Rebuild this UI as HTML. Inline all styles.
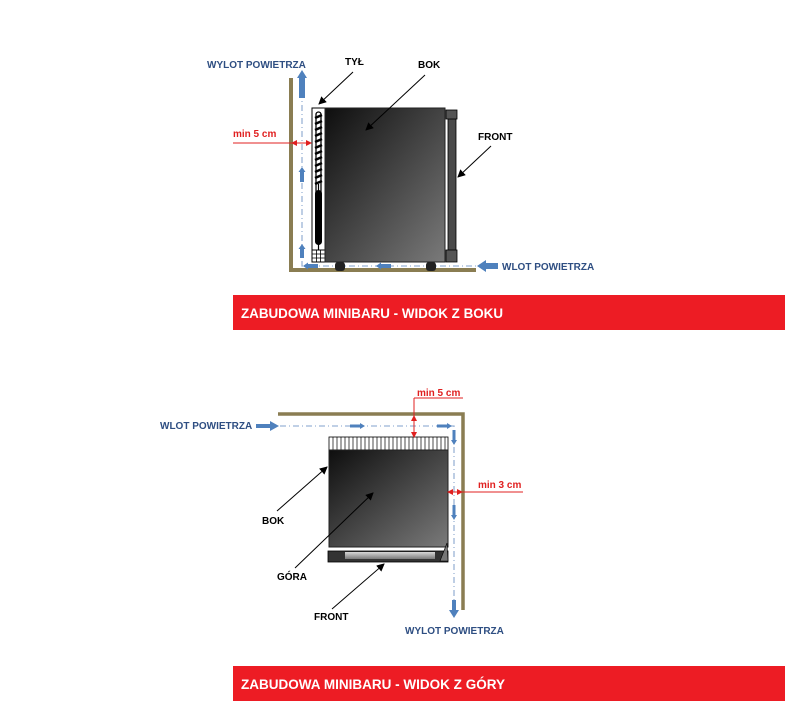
<!DOCTYPE html>
<html><head><meta charset="utf-8"><style>
html,body{margin:0;padding:0;background:#fff;}
svg{display:block;font-family:"Liberation Sans",sans-serif;font-weight:bold;}
</style></head><body>
<svg width="785" height="717" viewBox="0 0 785 717" xmlns="http://www.w3.org/2000/svg">
<defs>
<linearGradient id="g1" x1="0" y1="0" x2="1" y2="1">
<stop offset="0" stop-color="#0e0e0e"/><stop offset="1" stop-color="#7a7a7a"/></linearGradient>
<linearGradient id="g2" x1="0" y1="0" x2="0" y2="1">
<stop offset="0" stop-color="#d8d8d8"/><stop offset="1" stop-color="#7a7a7a"/></linearGradient>
<marker id="ak" markerWidth="8" markerHeight="8" refX="7" refY="4" orient="auto" markerUnits="userSpaceOnUse"><path d="M0,0 L8,4 L0,8 Z" fill="#000"/></marker>
<marker id="ar" markerWidth="6" markerHeight="6" refX="5" refY="3" orient="auto" markerUnits="userSpaceOnUse"><path d="M0,0 L6,3 L0,6 Z" fill="#e02020"/></marker>
</defs>

<!-- ===== SIDE VIEW ===== -->
<path d="M291,78 V270 H476" fill="none" stroke="#8a7d52" stroke-width="4"/>
<path d="M302,92 V266 H476" fill="none" stroke="#9bb3d6" stroke-width="1.3" stroke-dasharray="6,3,1,3"/>
<path d="M299,98 V78 h-2 l5,-8 l5,8 h-2 V98 Z" fill="#4f81bd"/>
<path d="M300,182 V172 h-1.5 l3.5,-5 l3.5,5 h-1.5 V182 Z" fill="#4f81bd"/>
<path d="M300,258 V249 h-1.5 l3.5,-5 l3.5,5 h-1.5 V258 Z" fill="#4f81bd"/>
<path d="M318,264 H308 v-1.5 l-5,3.5 l5,3.5 v-1.5 H318 Z" fill="#4f81bd"/>
<path d="M391,264 H381 v-1.5 l-5,3.5 l5,3.5 v-1.5 H391 Z" fill="#4f81bd"/>
<path d="M498,263 H486 v-3 l-9,6 l9,6 v-3 H498 Z" fill="#4f81bd"/>
<rect x="312" y="108" width="13" height="154" fill="#fff" stroke="#000" stroke-width="1"/>
<rect x="316" y="112" width="5" height="104" rx="2.5" fill="#fff" stroke="#000" stroke-width="1.3"/>
<path d="M315,118 l7,-3 M315,124 l7,-3 M315,130 l7,-3 M315,136 l7,-3 M315,142 l7,-3 M315,148 l7,-3 M315,154 l7,-3 M315,160 l7,-3 M315,166 l7,-3 M315,172 l7,-3 M315,178 l7,-3 M315,184 l7,-3" stroke="#000" stroke-width="2.5"/>
<line x1="318.5" y1="184" x2="318.5" y2="252" stroke="#000" stroke-width="1.2"/>
<rect x="315" y="190" width="7" height="55" rx="3.5" fill="#000"/>
<rect x="312" y="250" width="13" height="12" fill="#fff" stroke="#000"/>
<path d="M312,254 h13 M312,258 h13 M316.5,250 v12 M320.5,250 v12" stroke="#000" stroke-width="0.8"/>
<rect x="325" y="108" width="120" height="154" fill="url(#g1)" stroke="#222" stroke-width="1"/>
<rect x="448" y="114" width="8" height="146" fill="#4a4a4a" stroke="#000" stroke-width="0.8"/>
<rect x="446" y="110" width="11" height="9" fill="#555" stroke="#000" stroke-width="0.8"/>
<rect x="446" y="250" width="11" height="12" fill="#555" stroke="#000" stroke-width="0.8"/>
<rect x="335" y="262" width="10" height="9" rx="3" fill="#222"/>
<rect x="426" y="262" width="10" height="9" rx="3" fill="#222"/>
<text x="233" y="137" font-size="10" fill="#e02020">min 5 cm</text>
<line x1="233" y1="143" x2="292" y2="143" stroke="#e02020" stroke-width="1"/>
<line x1="300" y1="143" x2="292" y2="143" stroke="#e02020" stroke-width="1" marker-end="url(#ar)"/>
<line x1="300" y1="143" x2="311" y2="143" stroke="#e02020" stroke-width="1" marker-end="url(#ar)"/>
<text x="207" y="68" font-size="10" fill="#2e4e82">WYLOT POWIETRZA</text>
<text x="345" y="65" font-size="10" fill="#000">TYŁ</text>
<text x="418" y="68" font-size="10" fill="#000">BOK</text>
<text x="478" y="140" font-size="10" fill="#000">FRONT</text>
<text x="502" y="270" font-size="10" fill="#2e4e82">WLOT POWIETRZA</text>
<line x1="353" y1="72" x2="319" y2="104" stroke="#000" marker-end="url(#ak)"/>
<line x1="425" y1="75" x2="366" y2="130" stroke="#000" marker-end="url(#ak)"/>
<line x1="491" y1="146" x2="458" y2="177" stroke="#000" marker-end="url(#ak)"/>
<rect x="233" y="295" width="552" height="35" fill="#ed1c24"/>
<text x="241" y="318" font-size="13.5" fill="#fff" textLength="262" lengthAdjust="spacingAndGlyphs">ZABUDOWA MINIBARU - WIDOK Z BOKU</text>

<!-- ===== TOP VIEW ===== -->
<path d="M278,414 H463 V610" fill="none" stroke="#8a7d52" stroke-width="3.5"/>
<path d="M280,426 H454 V604" fill="none" stroke="#9bb3d6" stroke-width="1.3" stroke-dasharray="6,3,1,3"/>
<path d="M256,424 H270 v-3 l9,5 l-9,5 v-3 H256 Z" fill="#4f81bd"/>
<path d="M350,424.5 H360 v-1.5 l5,3 l-5,3 v-1.5 H350 Z" fill="#4f81bd"/>
<path d="M437,424.5 H447 v-1.5 l5,3 l-5,3 v-1.5 H437 Z" fill="#4f81bd"/>
<path d="M452.5,430 V440 h-1.5 l3,5 l3,-5 h-1.5 V430 Z" fill="#4f81bd"/>
<path d="M452.5,505 V515 h-1.5 l3,5 l3,-5 h-1.5 V505 Z" fill="#4f81bd"/>
<path d="M452,600 V610 h-3 l5,8 l5,-8 h-3 V600 Z" fill="#4f81bd"/>
<rect x="329" y="437" width="119" height="13" fill="#fff" stroke="#000" stroke-width="0.8"/>
<path d="M333,437v13M337,437v13M341,437v13M345,437v13M349,437v13M353,437v13M357,437v13M361,437v13M365,437v13M369,437v13M373,437v13M377,437v13M381,437v13M385,437v13M389,437v13M393,437v13M397,437v13M401,437v13M405,437v13M409,437v13M413,437v13M417,437v13M421,437v13M425,437v13M429,437v13M433,437v13M437,437v13M441,437v13M445,437v13" stroke="#000" stroke-width="0.7"/>
<rect x="329" y="450" width="119" height="97" fill="url(#g1)" stroke="#222"/>
<rect x="328" y="551" width="120" height="11" fill="#333" stroke="#000" stroke-width="0.8"/>
<rect x="345" y="552" width="90" height="7" fill="url(#g2)"/>
<path d="M440,561 L447,543 L448,561 Z" fill="#777" stroke="#000" stroke-width="0.6"/>
<text x="417" y="396" font-size="10" fill="#e02020">min 5 cm</text>
<line x1="414" y1="398" x2="463" y2="398" stroke="#e02020" stroke-width="1"/>
<line x1="414" y1="398" x2="414" y2="417" stroke="#e02020" stroke-width="1"/>
<line x1="414" y1="428" x2="414" y2="416" stroke="#e02020" marker-end="url(#ar)"/>
<line x1="414" y1="426" x2="414" y2="437" stroke="#e02020" marker-end="url(#ar)"/>
<text x="478" y="488" font-size="10" fill="#e02020">min 3 cm</text>
<line x1="523" y1="492" x2="462" y2="492" stroke="#e02020"/>
<line x1="455" y1="492" x2="462" y2="492" stroke="#e02020" marker-end="url(#ar)"/>
<line x1="455" y1="492" x2="448" y2="492" stroke="#e02020" marker-end="url(#ar)"/>
<text x="160" y="429" font-size="10" fill="#2e4e82">WLOT POWIETRZA</text>
<text x="405" y="634" font-size="10" fill="#2e4e82">WYLOT POWIETRZA</text>
<text x="262" y="524" font-size="10" fill="#000">BOK</text>
<text x="277" y="580" font-size="10" fill="#000">GÓRA</text>
<text x="314" y="620" font-size="10" fill="#000">FRONT</text>
<line x1="277" y1="511" x2="327" y2="467" stroke="#000" marker-end="url(#ak)"/>
<line x1="295" y1="568" x2="373" y2="493" stroke="#000" marker-end="url(#ak)"/>
<line x1="332" y1="609" x2="384" y2="564" stroke="#000" marker-end="url(#ak)"/>
<rect x="233" y="666" width="552" height="35" fill="#ed1c24"/>
<text x="241" y="689" font-size="13.5" fill="#fff" textLength="264" lengthAdjust="spacingAndGlyphs">ZABUDOWA MINIBARU - WIDOK Z GÓRY</text>
</svg>
</body></html>
